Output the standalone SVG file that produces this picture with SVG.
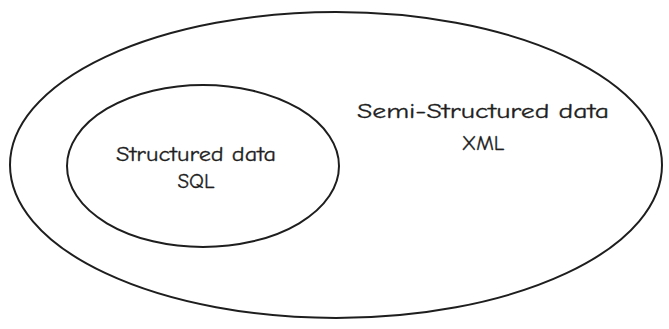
<svg xmlns="http://www.w3.org/2000/svg" width="669" height="329" viewBox="0 0 669 329">
  <style>
    .shape { fill: none; stroke: #1e1e1e; stroke-width: 2; stroke-linecap: round; }
    .label { font-family: "Comic Neue", "Open Sans", "DejaVu Sans", sans-serif; font-size: 21px; fill: #1e1e1e; stroke: #1e1e1e; stroke-width: 0.3; text-anchor: middle; }
  </style>
  <rect width="669" height="329" fill="#ffffff"/>
  <g id="semi-structured">
    <ellipse class="shape" cx="336" cy="165" rx="326" ry="153"/>
    <text class="label" x="483" y="118" textLength="252" lengthAdjust="spacingAndGlyphs">Semi-Structured data</text>
    <text class="label" x="483" y="150">XML</text>
  </g>
  <g id="structured">
    <ellipse class="shape" cx="203" cy="166" rx="136" ry="81" stroke-width="2.5"/>
    <text class="label" x="196" y="161" textLength="160" lengthAdjust="spacingAndGlyphs">Structured data</text>
    <text class="label" x="196" y="188">SQL</text>
  </g>
  <g id="connectors"/>
</svg>
